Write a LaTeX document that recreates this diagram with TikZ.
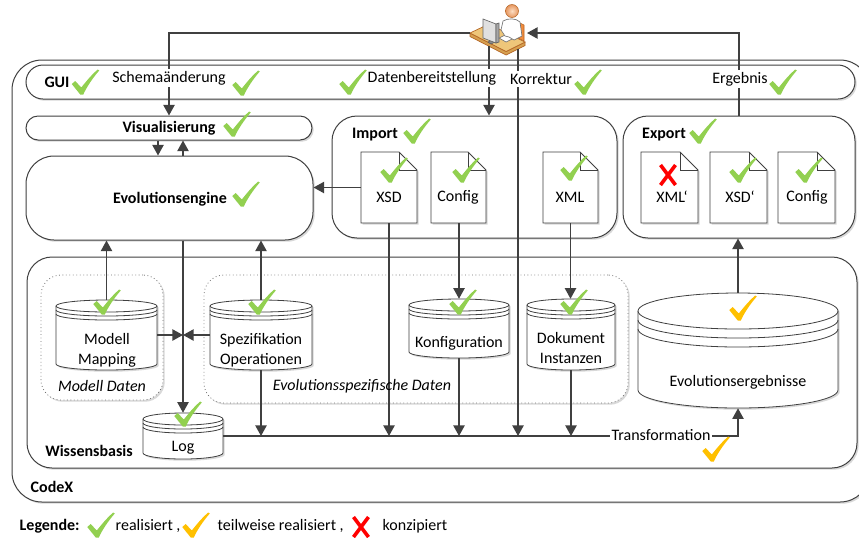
\documentclass[tikz,border=0pt]{standalone}
\usepackage{fontspec}
\setmainfont{Carlito}
\usetikzlibrary{arrows.meta,fit,shadows}

\definecolor{ink}{RGB}{64,64,64}
\definecolor{okgreen}{RGB}{146,208,80}
\definecolor{partyellow}{RGB}{255,192,0}
\definecolor{nored}{RGB}{255,0,0}
\definecolor{desktop}{RGB}{238,198,122}
\definecolor{deskside}{RGB}{214,160,80}
\definecolor{deskedge}{RGB}{180,100,35}
\definecolor{chairc}{RGB}{242,140,60}
\definecolor{skinin}{RGB}{252,222,195}
\definecolor{skinout}{RGB}{230,150,95}

\tikzset{
  every node/.style={font=\fontsize{12}{15}\selectfont, text=black},
  shd/.style={drop shadow={shadow xshift=1.3pt,shadow yshift=-1.3pt,opacity=.28,fill=black!55}},
  frame/.style={draw=ink, line width=0.75pt, fill=white, shd, inner sep=0pt},
  dotbox/.style={draw=black!55, dotted, line width=0.6pt, fill=white, shd, inner sep=0pt, rounded corners=15pt},
  paper/.style={draw=ink, line width=0.6pt, fill=white, shd},
  paperfold/.style={draw=ink, line width=0.6pt},
  cyl/.style={draw=ink, line width=0.6pt, fill=white, shd},
  cylrim/.style={draw=ink, line width=0.6pt},
  conn/.style={draw=ink, line width=1.1pt, -{Triangle[length=8pt,width=8.5pt]}},
  routelbl/.style={fill=white, inner sep=1.5pt},
  head/.style={font=\fontsize{12}{15}\selectfont\bfseries},
  grp/.style={font=\fontsize{12}{15}\selectfont\itshape},
  pics/tick/.style={code={
    \fill[#1] (-13.75,2) -- (-10.25,-1) -- (-4.25,5.5)
      .. controls (0.25,0) and (5.25,-6.5) .. (12.25,-12.5) -- (13.75,-11.5)
      .. controls (7.25,-4) and (1.75,4) .. (-2.25,12.5) -- (-5.25,12.5) -- cycle;}},
  pics/cross/.style={code={
    \draw[nored, line width=2.7pt] (-7.5,-10) -- (7.5,10) (7.5,-10) -- (-7.5,10);}}
}

% document sheet with folded corner: name, x1, y1, x2, y2
\newcommand\sheet[5]{%
  \path[paper] (#2,#3) -- (#4-18,#3) -- (#4,#3+18) -- (#4,#5) -- (#2,#5) -- cycle;
  \draw[paperfold] (#4-18,#3) -- (#4-18,#3+18) -- (#4,#3+18);
  \node[fit={(#2,#3)(#4,#5)}, inner sep=0pt] (#1) {};
}

% database drum: name, x1, x2, top, bottom, rim radius, ring gap
\newcommand\drum[7]{%
  \pgfmathsetmacro\drx{(#3-#2)/2}%
  \pgfmathsetmacro\dty{#4+#6}%
  \pgfmathsetmacro\dby{#5-#6}%
  \path[cyl] (#2,\dty) -- (#2,\dby)
     arc[start angle=180,end angle=0,x radius=\drx,y radius=#6] -- (#3,\dty)
     arc[start angle=0,end angle=-180,x radius=\drx,y radius=#6] -- cycle;
  \draw[cylrim] (#2,\dty) arc[start angle=180,end angle=0,x radius=\drx,y radius=#6]
     (#2,\dty+#7) arc[start angle=180,end angle=0,x radius=\drx,y radius=#6]
     (#2,\dty+2*#7) arc[start angle=180,end angle=0,x radius=\drx,y radius=#6];
  \node[fit={(#2,#4)(#3,#5)}, inner sep=0pt] (#1) {};
}

\begin{document}
\begin{tikzpicture}[x=0.75pt,y=-0.75pt]
\useasboundingbox (0,0) rectangle (859,537);
\clip (0,0) rectangle (859,537);
\fill[white] (0,0) rectangle (859,537);

% ---------- containers ----------
\node[frame, rounded corners=22.5pt, fit={(12,60)(870,502)}] (codex) {};
\node[frame, rounded corners=12.75pt, fit={(26,65)(855,99)}] (gui) {};
\node[frame, rounded corners=18.75pt, fit={(27,257)(857,468)}] (wb) {};

\node[frame, rounded corners=9pt, fit={(26,116)(312,140)}] (vis) {};
\node[frame, rounded corners=21pt, fit={(26,156)(313,240)}] (engine) {};
\node[frame, rounded corners=18.75pt, fit={(332,116)(617,238)}] (import) {};
\node[frame, rounded corners=18.75pt, fit={(623,116)(855,238)}] (export) {};

\node[dotbox, fit={(41,275)(163,400)}] (mdata) {};
\node[dotbox, fit={(204,275)(628,403)}] (edata) {};

% ---------- documents ----------
\sheet{xsd}{361}{152}{417}{223}
\sheet{cfg}{431}{152}{486}{223}
\sheet{xml}{543}{152}{598}{223}
\sheet{xmlp}{641}{152}{698}{223}
\sheet{xsdp}{710}{152}{767}{223}
\sheet{cfgp}{778}{152}{835}{223}

% ---------- data stores ----------
\drum{mm}{56}{157}{300}{370}{6}{4}
\drum{sp}{210}{312}{300}{370}{6}{4}
\drum{konf}{409}{509}{299}{358}{6}{4}
\drum{dok}{527}{615}{299}{370}{6}{4}
\drum{log}{143}{223}{413}{459}{6}{4}
\drum{result}{638}{838}{293}{408}{18}{9}

% ---------- user at the desk ----------
\filldraw[fill=chairc, draw=deskedge, line width=0.4pt] (516,21) -- (524,25) -- (524,41) -- (516,37) -- cycle;
\filldraw[fill=deskside, draw=deskedge, line width=0.5pt] (470,33) -- (470,36.5) -- (506,55) -- (525,45.5) -- (525,42) -- (506,51.5) -- cycle;
\filldraw[fill=desktop, draw=deskedge, line width=0.5pt] (470,33) -- (489,24) -- (525,42) -- (506,51.5) -- cycle;
\filldraw[fill=black!45, draw=black!65, line width=0.4pt] (488,42) -- (492,40) -- (495,42) -- (491,44) -- cycle;
\filldraw[fill=black!12, draw=black!60, line width=0.5pt] (483,19) -- (496,24) -- (496,43) -- (483,38) -- cycle;
\filldraw[fill=black!35, draw=black!60, line width=0.5pt] (496,24) -- (499,23) -- (499,42) -- (496,43) -- cycle;
\filldraw[fill=white, draw=black!55, line width=0.5pt] (499,38) -- (507,34) -- (514,38) -- (506,42) -- cycle;
\filldraw[fill=white, draw=black!55, line width=0.5pt]
  (503,21) .. controls (508,18) and (516,18) .. (520,22) -- (522,36) -- (514,40) -- (509,37)
  -- (505,36) -- (501,30) -- cycle;
\shade[inner color=skinin, outer color=skinout] (512,11) circle[radius=6.5];
\draw[deskedge, line width=0.4pt] (512,11) circle[radius=6.5];
\node[fit={(468,3)(528,56)}, inner sep=0pt] (user) {};
\coordinate (userL) at (470,33);
\coordinate (userR) at (527,33);
\coordinate (userA) at (489,46);
\coordinate (userB) at (518,49);

% ---------- connectors ----------
\draw[conn] (userL) -| (vis.north);
\draw[conn] (export.north) |- (userR);
\draw[conn] (userA) -- (userA |- import.north);
\draw[conn] (userB) -- (userB |- log.east);

\draw[conn] (vis.south -| 158,0) -- (engine.north -| 158,0);
\draw[conn] (engine.north -| 183,0) -- (vis.south -| 183,0);
\draw[conn] (xsd.west) -- (xsd.west -| engine.east);

\draw[conn] (engine.south -| log.north) -- (log.north);
\draw[conn] (mm.north) -- (mm.north |- engine.south);
\draw[conn] (sp.north) -- (sp.north |- engine.south);
\draw[conn] (mm.east) -- (mm.east -| log.north);
\draw[conn] (sp.west) -- (sp.west -| log.north);

\draw[conn] (xsd.south) -- (xsd.south |- log.east);
\draw[conn] (cfg.south -| konf.north) -- (konf.north);
\draw[conn] (xml.south) -- (xml.south |- dok.north);
\draw[conn] (sp.south) -- (sp.south |- log.east);
\draw[conn] (konf.south) -- (konf.south |- log.east);
\draw[conn] (dok.south) -- (dok.south |- log.east);

\draw[conn] (log.east) -- (log.east -| result.south) -- (result.south);
\draw[conn] (result.north) -- (result.north |- export.south);

% ---------- labels ----------
\node[head] (tgui) at (57,82) {GUI};
\node[routelbl] (tschema) at (169,78) {Schemaänderung};
\node[routelbl] (tdaten) at (432,78) {Datenbereitstellung};
\node[routelbl] (tkorr) at (541,79) {Korrektur};
\node[routelbl] (terg) at (740,79) {Ergebnis};
\node[routelbl] (ttrans) at (661,435) {Transformation};

\node[head] (tvis) at (169,128) {Visualisierung};
\node[head] (teng) at (170,199) {Evolutionsengine};
\node[head] (timp) at (375,135) {Import};
\node[head] (texp) at (664,135) {Export};
\node[head] (twb) at (89,451) {Wissensbasis};
\node[head] (tcodex) at (52,487) {CodeX};

\node (lxsd) at (389,197) {XSD};
\node (lcfg) at (458,197) {Config};
\node (lxml) at (570,197) {XML};
\node (lxmlp) at (672,197) {XML‘};
\node (lxsdp) at (740,197) {XSD‘};
\node (lcfgp) at (807,197) {Config};

\node[align=center] (lmm) at (107,350) {Modell\\Mapping};
\node[align=center] (lsp) at (261,350) {Spezifikation\\Operationen};
\node (lkonf) at (459,343) {Konfiguration};
\node[align=center] (ldok) at (571,348) {Dokument\\Instanzen};
\node (lres) at (738,382) {Evolutionsergebnisse};
\node (llog) at (183,448) {Log};

\node[grp] (lmdata) at (102,386) {Modell Daten};
\node[grp] (ledata) at (362,386) {Evolutionsspezifische Daten};

% ---------- status marks ----------
\pic at (85.5,82) {tick=okgreen};
\pic at (246,83) {tick=okgreen};
\pic at (353,82) {tick=okgreen};
\pic at (588,82) {tick=okgreen};
\pic at (783,82) {tick=okgreen};
\pic at (237,124) {tick=okgreen};
\pic at (246,194) {tick=okgreen};
\pic at (417,131) {tick=okgreen};
\pic at (394,170) {tick=okgreen};
\pic at (466,170) {tick=okgreen};
\pic at (574,168) {tick=okgreen};
\pic at (703,131) {tick=okgreen};
\pic at (743,170) {tick=okgreen};
\pic at (809,170) {tick=okgreen};
\pic at (668,175) {cross};
\pic at (107,302) {tick=okgreen};
\pic at (262,302) {tick=okgreen};
\pic at (463,302) {tick=okgreen};
\pic at (574,302) {tick=okgreen};
\pic at (188,414) {tick=okgreen};
\pic at (743,308) {tick=partyellow};
\pic at (716,449) {tick=partyellow};

% ---------- legend ----------
\node[head, anchor=west] (tleg) at (15,526) {Legende:};
\pic at (101,525) {tick=okgreen};
\node[anchor=west] (tleg1) at (111,526) {realisiert ,};
\pic at (196,525) {tick=partyellow};
\node[anchor=west] (tleg2) at (213,526) {teilweise realisiert ,};
\pic at (361,527) {cross};
\node[anchor=west] (tleg3) at (378,526) {konzipiert};
\end{tikzpicture}
\end{document}
